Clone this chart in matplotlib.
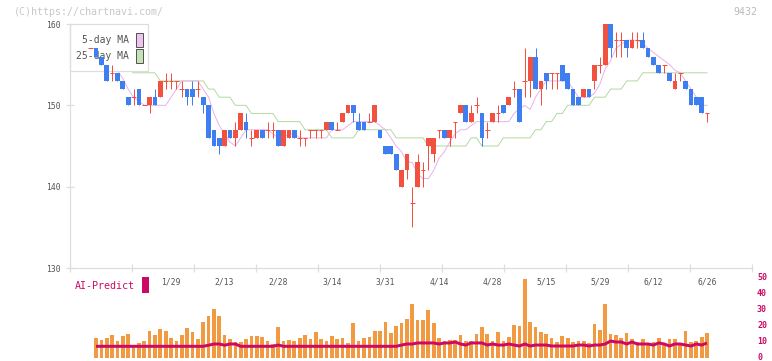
import numpy as np
import matplotlib
matplotlib.use('Agg')
import matplotlib.pyplot as plt
from matplotlib.patches import Rectangle
from matplotlib.transforms import blended_transform_factory

# ---- data (day index -1 .. 114) ----
day = np.arange(-1, 115)
opens = [157, 157, 156, 155, 154, 154, 153, 151, 151, 152, 150, 150, 151, 151, 153, 153, 153, 152, 152, 152,
         152, 151, 150, 147, 146, 145, 147, 146, 147, 148, 146, 146, 147, 147, 147, 147, 145, 146, 147, 146,
         146, 147, 147, 147, 147, 148, 147, 148, 149, 150, 148, 148, 148, 148, 147, 145, 145, 144, 140, 142,
         138, 140, 142, 145, 144, 147, 147, 146, 148, 149, 150, 148, 150, 149, 147, 148, 149, 150, 150, 152,
         152, 153, 153, 156, 152, 154, 154, 154, 155, 154, 152, 151, 151, 152, 153, 155, 155, 160, 158, 158,
         158, 157, 158, 158, 157, 156, 155, 155, 154, 152, 154, 153, 152, 151, 151, 149]
highs = [157, 157, 156, 155, 155, 154, 153, 151, 152, 152, 150, 151, 152, 153, 154, 154, 153, 153, 152, 153,
         153, 151, 150, 147, 146, 147, 147, 148, 149, 149, 147, 147, 147, 148, 148, 147, 147, 147, 147, 147,
         146, 147, 147, 147, 148, 148, 148, 149, 150, 150, 149, 148, 149, 150, 147, 145, 145, 144, 142, 144,
         140, 144, 143, 146, 146, 147, 147, 147, 148, 150, 150, 150, 151, 149, 148, 149, 150, 150, 151, 153,
         152, 157, 156, 157, 153, 154, 154, 154, 155, 154, 152, 151, 152, 152, 155, 156, 160, 160, 159, 159,
         158, 159, 159, 159, 157, 156, 155, 155, 154, 154, 154, 153, 152, 151, 151, 149]
lows = [157, 156, 155, 153, 153, 153, 152, 150, 150, 150, 150, 149, 150, 151, 152, 152, 152, 151, 150, 150,
        151, 149, 146, 145, 144, 145, 146, 145, 147, 146, 145, 146, 146, 146, 146, 145, 145, 146, 146, 145,
        145, 146, 146, 146, 147, 147, 147, 148, 149, 148, 147, 147, 148, 148, 146, 144, 144, 142, 140, 141,
        135, 140, 140, 142, 143, 146, 146, 145, 146, 149, 148, 148, 149, 145, 146, 148, 148, 149, 150, 151,
        148, 151, 151, 152, 150, 152, 152, 152, 153, 152, 150, 150, 151, 151, 152, 154, 155, 156, 156, 156,
        156, 157, 157, 157, 156, 155, 154, 154, 153, 152, 153, 152, 150, 150, 149, 148]
closes = [157, 156, 155, 153, 154, 153, 152, 150, 151, 150, 150, 151, 150, 153, 153, 153, 153, 152, 151, 151,
          152, 150, 146, 145, 145, 147, 146, 147, 149, 147, 146, 147, 146, 147, 147, 145, 147, 147, 146, 146,
          146, 147, 147, 147, 148, 147, 147, 149, 150, 149, 147, 147, 148, 150, 146, 144, 144, 142, 142, 144,
          138, 143, 142, 146, 146, 147, 146, 147, 148, 150, 148, 149, 150, 146, 147, 149, 149, 149, 151, 152,
          148, 153, 156, 152, 153, 153, 154, 154, 153, 152, 150, 150, 152, 151, 155, 155, 160, 157, 158, 158,
          157, 158, 158, 157, 156, 155, 154, 155, 153, 153, 154, 152, 150, 150, 149, 149]

nan = np.nan
ma5 = [nan, nan, nan, nan, nan, 154.3, 153.3, 152, 151, 150.5, 150, 150, 150, 150, 150, 151, 152, 153, 153, 153,
       153, 152, 151, 149, 147.5, 146.5, 145.5, 145, 146, 147, 147, 147, 147, 147, 146.5, 146, 146, 146.5, 146.5,
       146, 146, 146, 146, 146, 146, 147, 147, 147, 147.5, 148, 148, 148, 148, 148, 147.5, 147, 146, 145, 144.3,
       143, 143, 141.6, 141, 141, 142, 143.5, 144.3, 145.5, 146.5, 147, 147, 147.5, 148, 148, 148, 148, 148, 148,
       148, 149, 149.6, 150, 149.5, 151, 152, 153, 153, 153, 153, 153, 152, 151, 151, 151, 151.5, 152.6, 154.5,
       155.5, 157, 157.5, 158, 158, 158, 157.6, 157, 156.5, 156, 155.5, 155, 154.3, 154, 153, 152, 151, 150, 150]
ma25 = [nan, nan, nan, nan, nan, nan, nan, 154.5, 154, 154, 154, 154, 154, 153, 153, 153, 153, 153, 153, 153,
        153, 153, 152, 152, 151, 151, 151, 150, 150, 150, 149, 149, 149, 149, 149, 148, 148, 148, 148, 148,
        147, 147, 147, 147, 147, 146, 146, 146, 146, 146, 147, 147, 147, 147, 147, 147, 147, 146, 146, 146,
        146, 146, 146, 145, 145, 145, 145, 145, 145, 145, 145, 146, 146, 145, 145, 145, 145, 146, 146, 146,
        146, 146, 146, 147, 147, 148, 148, 149, 149, 150, 150, 150, 150, 150, 151, 151, 151, 152, 152, 152,
        153, 153, 153, 154, 154, 154, 154, 154, 154, 154, 154, 154, 154, 154, 154, 154]

volume = [nan, 12.5, 11.2, 12.5, 14.4, 10.6, 13.7, 15, 6.7, 9.4, 10.6, 16.9, 14.4, 18.1, 16.9, 12.5, 10.6, 14.4,
          18.8, 16.5, 11.9, 22.5, 26.3, 30.6, 26.3, 14.4, 11.9, 10, 10, 11.9, 13.7, 13.7,
          13.1, 10.6, 8.75, 19.4, 10.6, 11.2, 10.6, 12.5, 14.4, 11.9, 16.3, 11.9, 10.6, 13.7, 11.9, 12.5, 9.4,
          21.9, 10.6, 12.5, 13.1, 16.9, 16.9, 22.5, 15.6, 20, 21.9, 24.4, 33.75, 23.75, 23.75, 30, 21.7, 12.5,
          10.6, 11.2, 11.2, 14.4, 10.6, 10.6, 15, 19.4, 15, 10.6, 16.3, 10.6, 13.1,
          20.6, 20, 49.4, 22.5, 19.4, 16.3, 15, 12.5, 10, 13.7, 12.5, 10, 10.6, 10.6, 9.4, 21.25, 17.5, 33.75,
          15, 14.4, 12.5, 15.6, 11.9, 10, 11.9, 9.4, 10, 12.5, 9.4, 11.9, 11.9, 9.4, 16.9, 10, 10.6, 13.1, 15.6]
ai_predict = [nan] + [7.3] * 21 + [8.0, 8.75, 8.75, 8.0, 8.75, 8.75] + [7.3] * 7 + [8.1] + [7.3] * 22 + \
    [8.1, 8.75, 8.75, 9.4, 9.4, 9.4, 9.4, 8.75, 9.4, 9.4, 10, 8.75, 8.1, 9.4, 9.4, 9.4, 8.1, 8.75, 8.1, 8.1,
     8.75, 8.1, 7.5, 8.75, 7.5, 8.1, 8.1, 8.1, 7.5, 7.5, 7.5, 7.5, 7.5, 8.1, 8.1, 7.5, 8.1, 8.1, 8.75, 10.6,
     10, 10, 8.75, 10, 8.75, 8.75, 8.75, 8.1, 9.4, 8.75, 7.5, 8.75, 8.75, 8.1, 7.5, 8.75, 8.1, 9.4]

date_pos = [14, 24, 34, 44, 54, 64, 74, 84, 94, 104, 114]
date_labels = ['1/29', '2/13', '2/28', '3/14', '3/31', '4/14', '4/28', '5/15', '5/29', '6/12', '6/26']
vol_ticks = [0, 10, 20, 30, 40, 50]

# ---- style ----
W, H = 772, 361
RED, BLUE = '#F2513F', '#3F7EF0'
PINK, GREEN = '#E9B4EA', '#B3DBA3'
ORANGE, CRIMSON = '#F19A42', '#CC0A66'
MONO = 'DejaVu Sans Mono'
px = 0.72  # one pixel in points at dpi 100

x0 = 96.0     # pixel centre of day 0
pitch = 5.36  # pixels per day
xlim = ((70 - x0) / pitch, (752 - x0) / pitch)

fig = plt.figure(figsize=(W / 100, H / 100), dpi=100)

def fbox(l, t, r, b):
    return [l / W, 1 - b / H, (r - l) / W, (b - t) / H]

# ---- volume panel (drawn first, transparent background) ----
axv = fig.add_axes(fbox(70, 278, 752, 358))
axv.patch.set_visible(False)
axv.set_xlim(*xlim)
axv.set_ylim(0, 50)
axv.bar(day, volume, width=0.69, color=ORANGE, linewidth=0, zorder=1)
axv.plot(day, ai_predict, color=CRIMSON, lw=3 * px, zorder=2, solid_capstyle='butt')
for s in axv.spines.values():
    s.set_visible(False)
axv.set_xticks([])
axv.set_yticks([])
trv = blended_transform_factory(fig.transFigure, axv.transData)
for v in vol_ticks:
    axv.text(757 / W, v + 0.5, str(v), transform=trv, ha='left', va='center', fontsize=6,
             color=CRIMSON, family=MONO, fontweight='bold', clip_on=False)

# ---- price panel ----
ax = fig.add_axes(fbox(70, 24, 752, 268))
ax.patch.set_visible(False)
ax.set_xlim(*xlim)
ax.set_ylim(130, 160)
ax.plot(day, ma25, color=GREEN, lw=px, zorder=1)
ax.plot(day, ma5, color=PINK, lw=px, zorder=1)

# legend box sits above the MA lines but below the candles
ax.add_patch(Rectangle((70 / W, 1 - 71 / H), 78 / W, 47 / H, transform=fig.transFigure, clip_on=False,
                       facecolor='white', edgecolor='#DDDDDD', lw=1.2 * px, zorder=1.5))
for yy, lab, col in [(40, '5-day MA', '#F0C2F0'), (56, '25-day MA', '#C4E3B5')]:
    ax.text(129 / W, 1 - yy / H, lab, transform=fig.transFigure, ha='right', va='center', fontsize=7,
            color='#555555', family=MONO, zorder=1.6)
    ax.add_patch(Rectangle((136 / W, 1 - (yy + 7) / H), 7 / W, 14 / H, transform=fig.transFigure,
                           clip_on=False, facecolor=col, edgecolor='#555555', lw=px, zorder=1.6))

for d, o, h, l, c in zip(day, opens, highs, lows, closes):
    if c == o:
        ax.vlines(d, l, h, color=RED, lw=px, zorder=3)
        ax.hlines(o, d - 0.44, d + 0.44, color=RED, lw=px, zorder=3)
    else:
        col = RED if c > o else BLUE
        ax.vlines(d, l, h, color=col, lw=px, zorder=2)
        ax.bar(d, c - o, bottom=o, width=0.88, color=col, linewidth=0, zorder=3)

for s in ['top', 'right']:
    ax.spines[s].set_visible(False)
for s in ['left', 'bottom']:
    ax.spines[s].set_color('#DDDDDD')
    ax.spines[s].set_linewidth(1.2 * px)
ax.set_yticks([130, 140, 150, 160])
ax.set_xticks(np.linspace(xlim[0], xlim[1], 12))
ax.set_xticklabels([])
ax.tick_params(axis='both', direction='inout', length=6, width=1.2 * px, color='#DDDDDD')
ax.tick_params(axis='y', labelsize=5.8, labelcolor='#555555', pad=4)
for t in ax.get_yticklabels():
    t.set_family(MONO)

tr = blended_transform_factory(ax.transData, fig.transFigure)
for p, lab in zip(date_pos, date_labels):
    ax.text(p, 1 - 282 / H, lab, transform=tr, ha='center', va='center',
            fontsize=5.8, color='#555555', family=MONO, clip_on=False)

# ---- titles ----
fig.text(14 / W, 1 - 12 / H, '(C)https://chartnavi.com/', ha='left', va='center', fontsize=7.2,
         color='#C8C8C8', family=MONO)
fig.text(757 / W, 1 - 12 / H, '9432', ha='right', va='center', fontsize=7.2, color='#BBBBBB', family=MONO)
fig.text(75 / W, 1 - 286 / H, 'AI-Predict', ha='left', va='center', fontsize=7.2, color=CRIMSON, family=MONO)
fig.add_artist(Rectangle((142 / W, 1 - 293 / H), 7 / W, 16 / H, transform=fig.transFigure,
                         facecolor=CRIMSON, edgecolor='none'))

fig.savefig('out.png', dpi=100)
